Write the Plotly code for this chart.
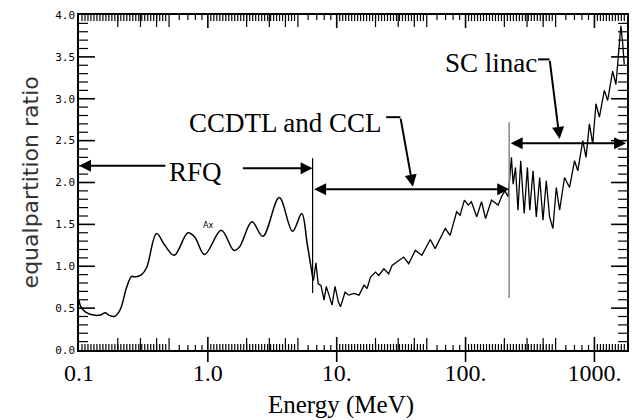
import numpy as np
import plotly.graph_objects as go

# ---- data ----
ENERGY_RFQ = [0.100, 0.103, 0.112, 0.130, 0.146, 0.160, 0.169, 0.188, 0.208, 0.235, 0.256,
              0.270, 0.306, 0.335, 0.400, 0.464, 0.548, 0.700, 0.790, 0.944, 1.27, 1.59,
              1.76, 2.20, 2.67, 3.58, 4.54, 5.35, 5.90, 6.50]
RATIO_RFQ = [0.595, 0.52, 0.456, 0.417, 0.417, 0.445, 0.42, 0.40, 0.476, 0.754, 0.88,
             0.873, 0.90, 0.985, 1.39, 1.25, 1.13, 1.40, 1.35, 1.14, 1.43, 1.19,
             1.23, 1.53, 1.357, 1.82, 1.417, 1.63, 1.27, 0.87]

ENERGY_LINAC = [6.50, 6.60, 6.90, 7.18, 7.55, 7.98, 8.30, 8.72, 9.20, 9.70, 10.3, 10.7,
                11.6, 12.4, 13.6, 14.9, 16.3, 17.2, 18.3, 20.0, 21.2, 23.2, 25.3, 26.9,
                33.1, 36.2, 40.7, 45.8, 53.2, 58.1, 69.5, 75.9, 85.3, 90.7, 97.9, 105,
                111, 122, 133, 143, 159, 179, 190, 202, 214, 227, 234, 244, 255, 268,
                285, 302, 315, 334, 354, 376, 399, 423, 449, 476, 506, 537, 586, 641,
                701, 743, 812, 861, 914, 970, 1028, 1093, 1194, 1267, 1385, 1469, 1560,
                1604, 1655, 1705]
RATIO_LINAC = [0.87, 0.83, 1.04, 0.79, 0.77, 0.595, 0.76, 0.655, 0.536, 0.76, 0.575, 0.515,
               0.69, 0.655, 0.675, 0.655, 0.774, 0.735, 0.87, 0.93, 0.89, 0.97, 0.91, 1.01,
               1.11, 1.03, 1.19, 1.13, 1.32, 1.21, 1.45, 1.37, 1.65, 1.61, 1.79, 1.73,
               1.77, 1.59, 1.77, 1.57, 1.79, 1.73, 1.83, 1.90, 1.83, 2.30, 1.98, 2.18, 1.67, 2.26,
               1.63, 2.18, 1.67, 2.14, 1.59, 2.06, 1.55, 2.02, 1.59, 1.45, 1.94, 1.67, 2.06, 1.94,
               2.26, 2.14, 2.50, 2.30, 2.70, 2.46, 2.94, 2.78, 3.10, 2.98, 3.33, 3.17, 3.73,
               3.87, 3.67, 3.41]

X_TICKS = [0.1, 1, 10, 100, 1000]
X_TICK_TEXT = ["0.1", "1.0", "10.", "100.", "1000."]
Y_TICKS = [0.0, 0.5, 1.0, 1.5, 2.0, 2.5, 3.0, 3.5, 4.0]
E_MIN, E_MAX = 0.1, 1790.0
Y_MIN, Y_MAX = 0.0, 4.0
RFQ_END = 6.5      # MeV
CCL_END = 218.0    # MeV

SERIF = "Liberation Serif, Times New Roman, serif"
SANS = "DejaVu Sans, sans-serif"
L = np.log10
XR = [L(E_MIN), L(E_MAX)]

PLOT_W, PLOT_H = 550.0, 335.0   # plot area in pixels (from the margins below)
PX_PER_DEC = PLOT_W / (XR[1] - XR[0])
PX_PER_Y = PLOT_H / (Y_MAX - Y_MIN)

fig = go.Figure()
fig.add_trace(go.Scatter(x=ENERGY_RFQ, y=RATIO_RFQ, mode="lines",
                         line=dict(color="black", width=1.5, shape="spline", smoothing=1.0),
                         hoverinfo="skip"))
fig.add_trace(go.Scatter(x=ENERGY_LINAC, y=RATIO_LINAC, mode="lines",
                         line=dict(color="black", width=1.3), hoverinfo="skip"))
# section boundary lines
fig.add_trace(go.Scatter(x=[RFQ_END, RFQ_END], y=[0.68, 2.29], mode="lines",
                         line=dict(color="black", width=1.2), hoverinfo="skip"))
fig.add_trace(go.Scatter(x=[CCL_END, CCL_END], y=[0.62, 2.72], mode="lines",
                         line=dict(color="#888888", width=1.5), hoverinfo="skip"))
# pointer horizontal bits
fig.add_trace(go.Scatter(x=[24.2, 31.2], y=[2.78, 2.78], mode="lines",
                         line=dict(color="black", width=2), hoverinfo="skip"))
fig.add_trace(go.Scatter(x=[365, 449], y=[3.47, 3.47], mode="lines",
                         line=dict(color="black", width=2), hoverinfo="skip"))

# ---- IDL-style tick marks, drawn as line traces (lengths given in pixels) ----
minor_x, minor_y, major_x, major_y = [], [], [], []


def xtick(e, px, xs, ys):
    h = px / PX_PER_Y
    xs += [e, e, None, e, e, None]
    ys += [Y_MIN, Y_MIN + h, None, Y_MAX, Y_MAX - h, None]


def ytick(v, px, xs, ys):
    f = 10 ** (px / PX_PER_DEC)
    xs += [E_MIN, E_MIN * f, None, E_MAX, E_MAX / f, None]
    ys += [v, v, None, v, v, None]


step = 3.0 / PX_PER_DEC  # dense minor spacing (decades)
for d in X_TICKS:
    if d > E_MIN:
        xtick(d, 13, major_x, major_y)
    for lg in np.arange(L(d) + step, L(5 * d) - step / 2, step):
        if 10 ** lg < E_MAX:
            xtick(10 ** lg, 6, minor_x, minor_y)
    for m in (2, 3, 4, 5):
        if m * d < E_MAX:
            xtick(m * d, 12, minor_x, minor_y)
    for m in (6, 7, 8, 9):
        if m * d < E_MAX:
            xtick(m * d, 5, minor_x, minor_y)
for v in Y_TICKS[1:-1]:
    ytick(v, 16, major_x, major_y)
for v in np.arange(0.1, 4.0, 0.1):
    if abs(v * 2 - round(v * 2)) > 1e-6:
        ytick(v, 9, minor_x, minor_y)

fig.add_trace(go.Scatter(x=minor_x, y=minor_y, mode="lines", connectgaps=False,
                         line=dict(color="black", width=1.2), hoverinfo="skip"))
fig.add_trace(go.Scatter(x=major_x, y=major_y, mode="lines", connectgaps=False,
                         line=dict(color="black", width=1.6), hoverinfo="skip"))

# parts of the major x ticks that cross below the axis
shapes = [dict(type="line", xref="x", yref="paper", x0=d, x1=d, y0=-12 / PLOT_H, y1=0,
               line=dict(color="black", width=1.6), layer="above")
          for d in X_TICKS if d > E_MIN]


def arrow(x0, y0, x1, y1, both=False):
    d = dict(x=L(x1), y=y1, ax=L(x0), ay=y0, xref="x", yref="y", axref="x", ayref="y",
             text="", showarrow=True, arrowhead=2, arrowsize=1.2, arrowwidth=2,
             arrowcolor="black", standoff=0, startstandoff=0)
    if both:
        d.update(arrowside="end+start", startarrowhead=2, startarrowsize=1.2)
    return d


anns = [
    arrow(0.481, 2.20, E_MIN, 2.20),
    arrow(1.82, 2.17, RFQ_END, 2.17),
    arrow(RFQ_END, 1.92, CCL_END, 1.92, both=True),
    arrow(CCL_END, 2.47, E_MAX * 0.985, 2.47, both=True),
    arrow(31.2, 2.78, 39.0, 1.95),
    arrow(449, 3.47, 537, 2.52),
    dict(x=L(0.805), y=2.13, xref="x", yref="y", text="RFQ", showarrow=False,
         font=dict(family=SERIF, size=27, color="black")),
    dict(x=L(4.04), y=2.71, xref="x", yref="y", text="CCDTL and CCL", showarrow=False,
         font=dict(family=SERIF, size=27, color="black")),
    dict(x=L(158), y=3.43, xref="x", yref="y", text="SC linac", showarrow=False,
         font=dict(family=SERIF, size=27, color="black")),
    dict(x=L(1.0), y=1.49, xref="x", yref="y", text="Ax", showarrow=False,
         font=dict(family=SANS, size=8, color="black")),
    dict(x=0.478, y=-0.164, xref="paper", yref="paper", text="Energy (MeV)", showarrow=False,
         xanchor="center", yanchor="middle",
         font=dict(family=SERIF, size=25, color="black")),
    dict(x=-0.089, y=0.501, xref="paper", yref="paper", text="equalpartition ratio",
         showarrow=False, textangle=-90, xanchor="center", yanchor="middle",
         font=dict(family=SANS, size=22, color="#333333")),
]

fig.update_layout(
    width=635, height=420,
    margin=dict(l=79, r=6, t=15, b=70),
    paper_bgcolor="white", plot_bgcolor="white",
    showlegend=False,
    annotations=anns,
    shapes=shapes,
    xaxis=dict(type="log", range=XR, tickmode="array", tickvals=X_TICKS, ticktext=X_TICK_TEXT,
               ticks="", showline=True, linecolor="black", linewidth=1.5, mirror=True,
               showgrid=False, zeroline=False,
               tickfont=dict(family=SERIF, size=24, color="black")),
    yaxis=dict(range=[Y_MIN, Y_MAX], tickmode="array", tickvals=Y_TICKS, tickformat=".1f",
               ticks="", showline=True, linecolor="black", linewidth=1.5, mirror=True,
               showgrid=False, zeroline=False,
               tickfont=dict(family="DejaVu Sans Mono, monospace", size=11, color="black")),
)

fig.write_html("out.html")
